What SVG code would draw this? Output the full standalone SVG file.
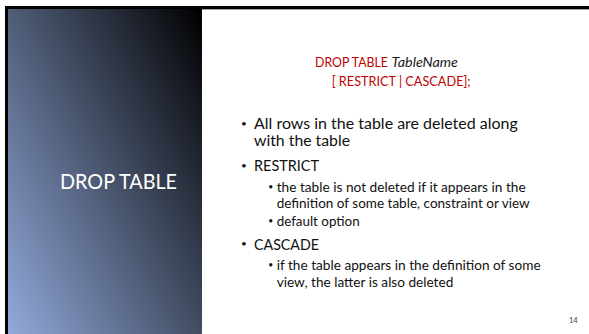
<svg xmlns="http://www.w3.org/2000/svg" width="589" height="334" viewBox="0 0 589 334">
  <defs>
    <linearGradient id="panelGrad" gradientUnits="userSpaceOnUse" x1="8" y1="334" x2="292.8" y2="194.9">
      <stop offset="0" stop-color="#92aadb"/>
      <stop offset="1" stop-color="#000000"/>
    </linearGradient>
    <style>
      .title { font-family: Lato, "Liberation Sans", sans-serif; font-size: 20.5px; fill: #ffffff; }
      .code { font-family: Lato, "Liberation Sans", sans-serif; font-size: 13px; fill: #c00000; }
      .codeit { font-family: Lato, "Liberation Sans", sans-serif; font-size: 13px; font-style: italic; fill: #1a1a1a; }
      .main { font-family: Lato, "Liberation Sans", sans-serif; font-size: 15.6px; fill: #111111; }
      .sub { font-family: Lato, "Liberation Sans", sans-serif; font-size: 13px; fill: #111111; }
      .b1 { font-family: Lato, "Liberation Sans", sans-serif; font-size: 10px; fill: #111111; text-anchor: middle; }
      .b2 { font-family: Lato, "Liberation Sans", sans-serif; font-size: 8.5px; fill: #111111; text-anchor: middle; }
      .num { font-family: Lato, "Liberation Sans", sans-serif; font-size: 7.5px; fill: #404040; }
    </style>
  </defs>

  <rect x="0" y="0" width="589" height="334" fill="#ffffff"/>

  <g id="frame">
    <rect x="8" y="9" width="194" height="325" fill="url(#panelGrad)"/>
    <rect x="5" y="6" width="584" height="3" fill="#000000"/>
    <rect x="5" y="6" width="3" height="328" fill="#000000"/>
    <rect x="202" y="9" width="387" height="1" fill="#a6a6a6"/>
  </g>

  <g id="title">
    <text class="title" x="60" y="189" textLength="117" lengthAdjust="spacingAndGlyphs">DROP TABLE</text>
  </g>

  <g id="syntax">
    <text class="code" x="315" y="66.5" textLength="73" lengthAdjust="spacingAndGlyphs">DROP TABLE</text>
    <text class="codeit" x="391.5" y="66.5" textLength="66.5" lengthAdjust="spacingAndGlyphs">TableName</text>
    <text class="code" x="331.7" y="85.5" textLength="139" lengthAdjust="spacingAndGlyphs">[ RESTRICT | CASCADE];</text>
  </g>

  <g id="bullets">
    <text class="b1" x="244" y="126.5">•</text>
    <text class="main" x="254" y="129" textLength="263.7" lengthAdjust="spacingAndGlyphs">All rows in the table are deleted along</text>
    <text class="main" x="254" y="146" textLength="96" lengthAdjust="spacingAndGlyphs">with the table</text>

    <text class="b1" x="244" y="168.5">•</text>
    <text class="main" x="254" y="171" textLength="65" lengthAdjust="spacingAndGlyphs">RESTRICT</text>

    <text class="b2" x="270.7" y="190">•</text>
    <text class="sub" x="276.7" y="192" textLength="249" lengthAdjust="spacingAndGlyphs">the table is not deleted if it appears in the</text>
    <text class="sub" x="276.7" y="208" textLength="253" lengthAdjust="spacingAndGlyphs">definition of some table, constraint or view</text>

    <text class="b2" x="270.7" y="224">•</text>
    <text class="sub" x="276.7" y="226" textLength="83" lengthAdjust="spacingAndGlyphs">default option</text>

    <text class="b1" x="244" y="247">•</text>
    <text class="main" x="254" y="249.5" textLength="65" lengthAdjust="spacingAndGlyphs">CASCADE</text>

    <text class="b2" x="270.7" y="268">•</text>
    <text class="sub" x="276.7" y="270" textLength="264" lengthAdjust="spacingAndGlyphs">if the table appears in the definition of some</text>
    <text class="sub" x="276.7" y="286.5" textLength="176.6" lengthAdjust="spacingAndGlyphs">view, the latter is also deleted</text>
  </g>

  <g id="page-number">
    <text class="num" x="569" y="323">14</text>
  </g>
</svg>
